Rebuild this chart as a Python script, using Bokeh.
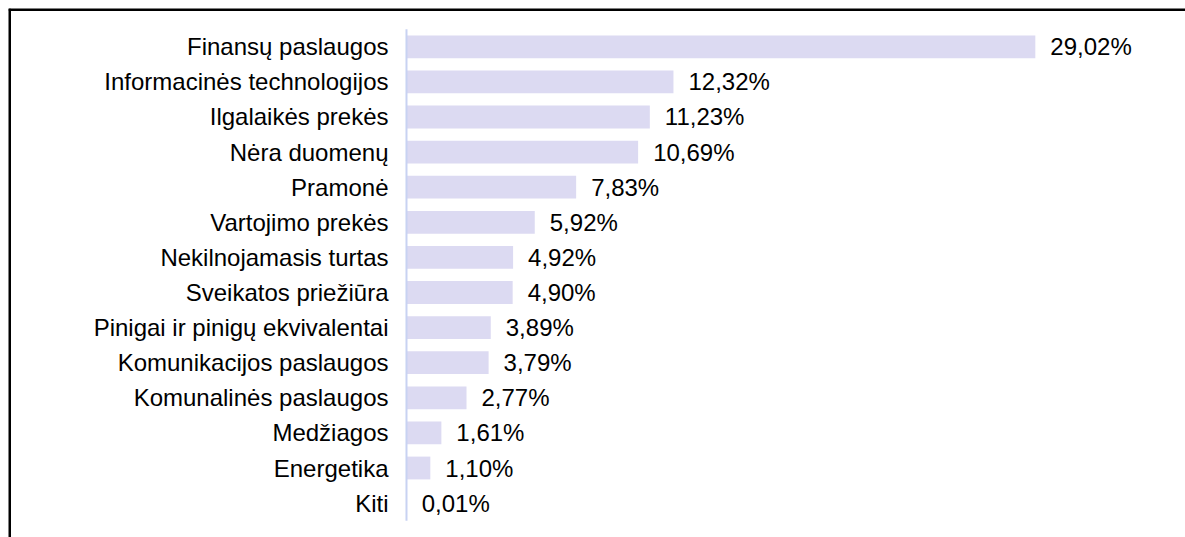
from bokeh.plotting import figure
from bokeh.models import ColumnDataSource, Range1d
from bokeh.core.properties import value
from bokeh.embed import file_html
from bokeh.resources import INLINE

categories = [
    "Finansų paslaugos",
    "Informacinės technologijos",
    "Ilgalaikės prekės",
    "Nėra duomenų",
    "Pramonė",
    "Vartojimo prekės",
    "Nekilnojamasis turtas",
    "Sveikatos priežiūra",
    "Pinigai ir pinigų ekvivalentai",
    "Komunikacijos paslaugos",
    "Komunalinės paslaugos",
    "Medžiagos",
    "Energetika",
    "Kiti",
]
values = [29.02, 12.32, 11.23, 10.69, 7.83, 5.92, 4.92, 4.90, 3.89, 3.79, 2.77, 1.61, 1.10, 0.01]

n = len(categories)
ypos = [n - 1 - i for i in range(n)]
labels = [f"{v:.2f}".replace(".", ",") + "%" for v in values]

src = ColumnDataSource(dict(cat=categories, val=values, y=ypos, lab=labels,
                            zero=[0] * n))

W, H = 1185, 537
xr = Range1d(-18.366, 35.95)
yr = Range1d(-0.98, 14.091)

p = figure(width=W, height=H, x_range=xr, y_range=yr,
           output_backend="svg", toolbar_location=None,
           x_axis_location=None, y_axis_location=None,
           min_border=0, min_border_left=8, min_border_top=8,
           outline_line_color=None,
           background_fill_color="white", border_fill_color="white")
p.xgrid.visible = False
p.ygrid.visible = False

FONT = value("Liberation Sans")

p.hbar(y="y", left=0, right="val", height=0.65, source=src,
       fill_color="#dcdaf2", line_color=None)

# axis line
p.segment(x0=0, y0=-0.5, x1=0, y1=n - 0.5, line_color="#c8d2f2", line_width=2)

# category labels
p.text(x="zero", y="y", text="cat", source=src, x_offset=-18,
       text_align="right", text_baseline="middle",
       text_font=FONT, text_font_size="24px", text_color="#000000")

# value labels
p.text(x="val", y="y", text="lab", source=src, x_offset=15,
       text_align="left", text_baseline="middle",
       text_font=FONT, text_font_size="24px", text_color="#000000")

# frame lines (top and left)
p.segment(x0=xr.start, y0=yr.end, x1=xr.end, y1=yr.end, line_color="#000000", line_width=5)
p.segment(x0=xr.start, y0=yr.start, x1=xr.start, y1=yr.end, line_color="#000000", line_width=5)

open("out.html", "w").write(file_html(p, INLINE))
